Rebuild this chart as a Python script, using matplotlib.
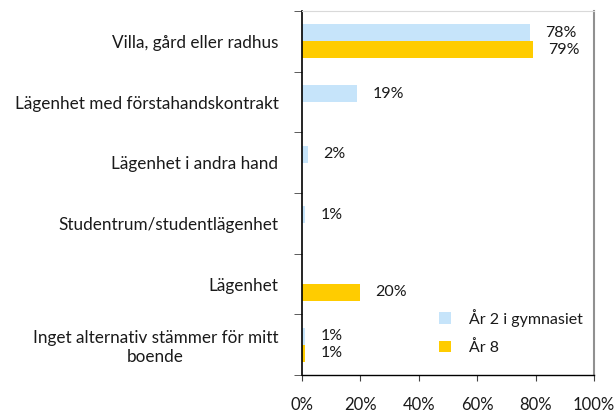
import matplotlib
matplotlib.use("Agg")
import matplotlib.pyplot as plt
import numpy as np
from matplotlib.ticker import FixedLocator, PercentFormatter

plt.rcParams['font.family'] = ['Lato', 'DejaVu Sans']
plt.rcParams['hatch.color'] = '#e6f3fe'
plt.rcParams['hatch.linewidth'] = 0.6

categories = ["Villa, gård eller radhus",
              "Lägenhet med förstahandskontrakt",
              "Lägenhet i andra hand",
              "Studentrum/studentlägenhet",
              "Lägenhet",
              "Inget alternativ stämmer för mitt\nboende"]
gym_values = [78, 19, 2, 1, 0, 1]
ar8_values = [79, 0, 0, 0, 20, 1]
gym_labels = ["78%", "19%", "2%", "1%", None, "1%"]
ar8_labels = ["79%", None, None, None, "20%", "1%"]
series_names = ["År 2 i gymnasiet", "År 8"]
xticks = [0, 20, 40, 60, 80, 100]

fig = plt.figure(figsize=(6.16, 4.17), dpi=100)
ax = fig.add_axes([302/616, 1-375/417, 292/616, 364/417])

y = np.arange(len(categories))
h = 0.28
ax.barh(y - h/2, gym_values, height=h, color='#c6e4fa', hatch='++++',
        edgecolor='#c6e4fa', linewidth=0, label=series_names[0])
ax.barh(y + h/2, ar8_values, height=h, color='#ffcc00', linewidth=0,
        label=series_names[1])

for yi, v, lab in zip(y - h/2, gym_values, gym_labels):
    if lab:
        ax.annotate(lab, (v, yi), xytext=(11, 0), textcoords='offset points',
                    va='center', ha='left', fontsize=11.5, color='#1a1a1a')
for yi, v, lab in zip(y + h/2, ar8_values, ar8_labels):
    if lab:
        ax.annotate(lab, (v, yi), xytext=(11, 0), textcoords='offset points',
                    va='center', ha='left', fontsize=11.5, color='#1a1a1a')

ax.set_xlim(0, 100)
ax.set_ylim(len(categories) - 0.5, -0.5)
ax.set_yticks(y)
ax.set_yticklabels(categories, fontsize=12.3, color='#1a1a1a', ha='right')
for t in ax.get_yticklabels():
    t.set_multialignment('center')
ax.yaxis.set_minor_locator(FixedLocator(np.arange(len(categories) + 1) - 0.5))
ax.tick_params(axis='y', which='major', length=0, pad=17)
ax.tick_params(axis='y', which='minor', length=6, direction='out', color='#404040')
ax.set_xticks(xticks)
ax.xaxis.set_major_formatter(PercentFormatter(decimals=0))
ax.tick_params(axis='x', length=4, direction='out', pad=12, labelsize=12,
               labelcolor='#1a1a1a', color='#404040')

ax.spines['left'].set_color('#000000')
ax.spines['left'].set_linewidth(1.2)
ax.spines['bottom'].set_color('#000000')
ax.spines['bottom'].set_linewidth(1.0)
ax.spines['top'].set_color('#d9d9d9')
ax.spines['right'].set_color('#909090')
ax.spines['right'].set_linewidth(1.5)

leg = ax.legend(loc='lower left', bbox_to_anchor=(0.42, 0.015), frameon=False,
                fontsize=11.5, handlelength=0.75, handleheight=0.75,
                handletextpad=1.1, labelspacing=0.85)
for t in leg.get_texts():
    t.set_color('#1a1a1a')

fig.savefig('out.png', dpi=100)
